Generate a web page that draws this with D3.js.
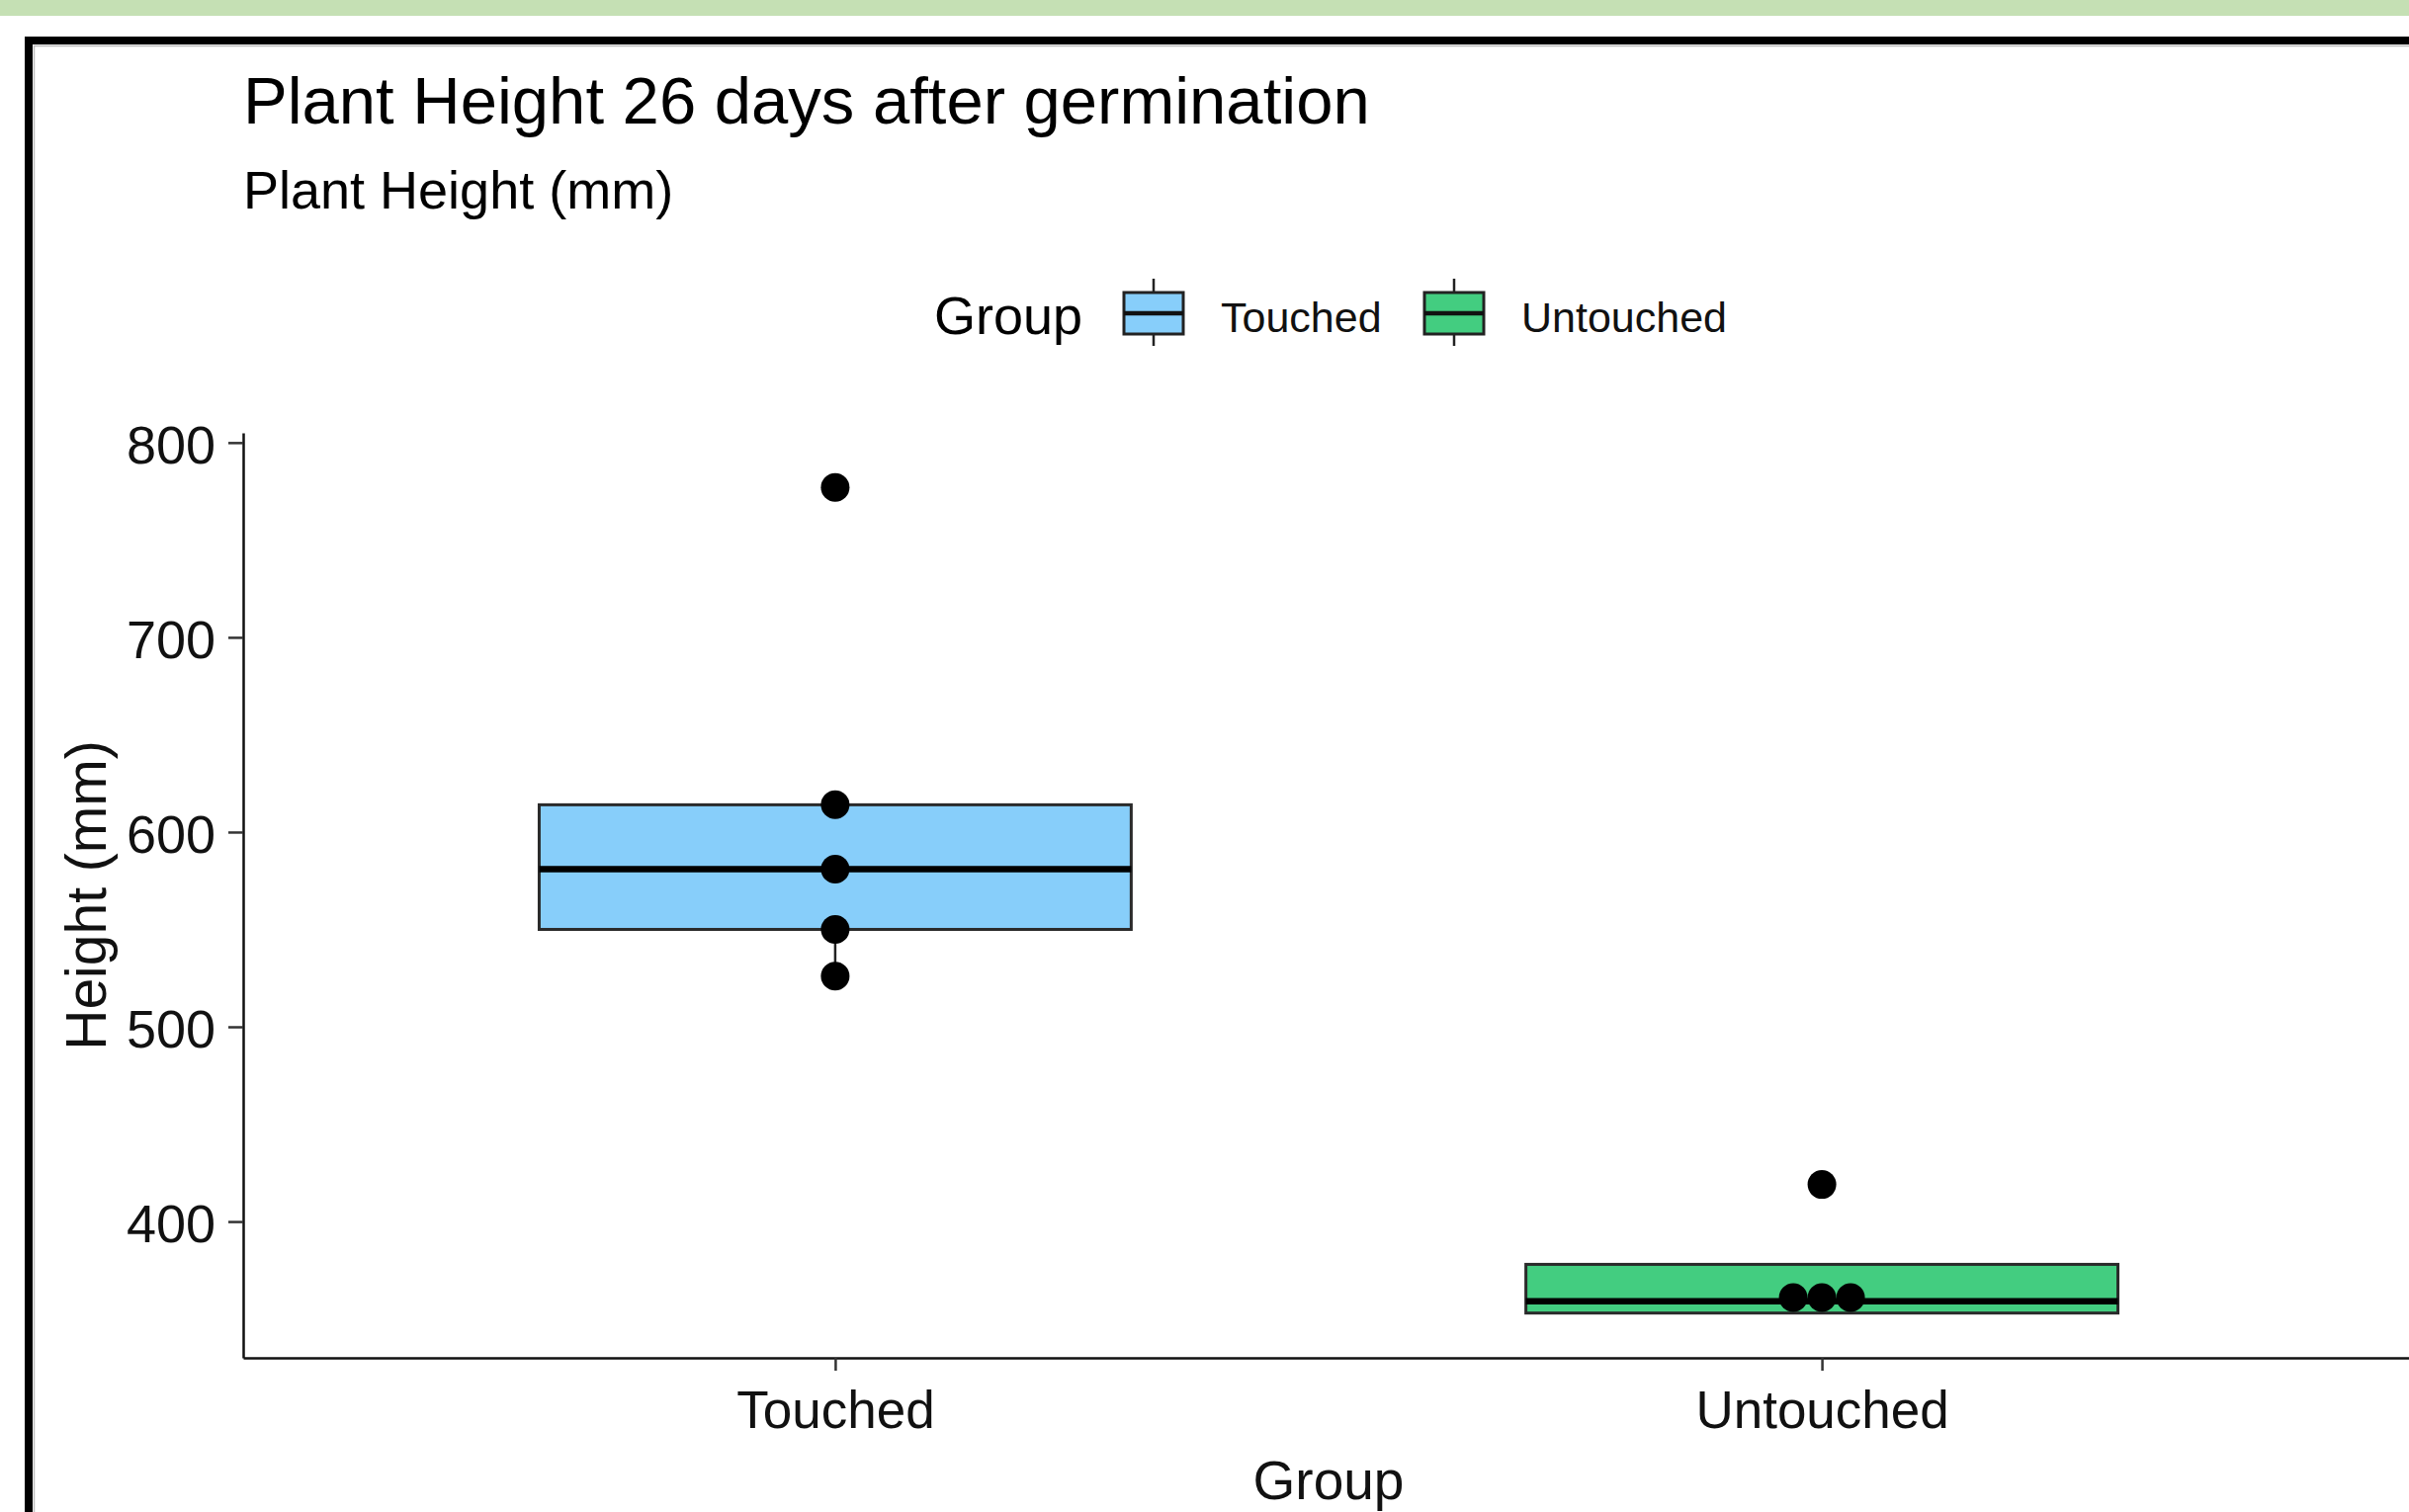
<!DOCTYPE html>
<html>
<head>
<meta charset="utf-8">
<script src="https://cdn.jsdelivr.net/npm/d3@7"></script>
<style>
    html, body { margin: 0; padding: 0; background: #fff; }
    svg { display: block; font-family: "Liberation Sans", Arial, sans-serif; }
</style>
</head>
<body>
<svg id="chart" width="2437" height="1530"></svg>
<script>
// groups on the x axis
var groups = ["Touched", "Untouched"];
var groupColors = ["#87cefa", "#43cd80"];

// box stats (mm)
var boxLow = [526, 353];
var boxQ1 = [550, 353];
var boxMedian = [581, 359];
var boxQ3 = [614, 378];
var boxHigh = [614, 378];

// individual plants (stack = horizontal dot slot)
var pointGroup = ["Touched", "Touched", "Touched", "Touched", "Touched", "Untouched", "Untouched", "Untouched", "Untouched"];
var pointValue = [777, 614, 581, 550, 526, 419, 361, 361, 361];
var pointStack = [0, 0, 0, 0, 0, 0, -1, 0, 1];

var yTicks = [400, 500, 600, 700, 800];

var svg = d3.select("#chart");
var font = "'Liberation Sans', Arial, sans-serif";

// page decoration: green strip and black frame
svg.append("rect").attr("x", 0).attr("y", 0).attr("width", 2437).attr("height", 16).attr("fill", "#c5e0b4");
svg.append("rect").attr("x", 29).attr("y", 41).attr("width", 2500).attr("height", 1600)
    .attr("fill", "none").attr("stroke", "#000").attr("stroke-width", 8);
svg.append("path").attr("d", "M34,46.5H2437M34.5,46V1530").attr("stroke", "#bbb").attr("stroke-width", 1.5).attr("fill", "none");

var panel = { left: 246, right: 2442, top: 438, bottom: 1374 };

var x = d3.scalePoint()
    .domain(groups)
    .range([panel.left, panel.right])
    .padding(0.6);

var y = d3.scaleLinear()
    .domain([330, 805])
    .range([panel.bottom, panel.top]);

var boxWidth = x.step() * 0.6;
var dotR = 14.5;

// titles
svg.append("text").attr("x", 246).attr("y", 125)
    .style("font-size", "67px").attr("fill", "#000")
    .text("Plant Height 26 days after germination");
svg.append("text").attr("x", 246).attr("y", 211)
    .style("font-size", "54px").attr("fill", "#000")
    .text("Plant Height (mm)");

// legend
var legend = svg.append("g");
legend.append("text").attr("x", 945).attr("y", 338)
    .style("font-size", "54px").attr("fill", "#000").text("Group");

var keyX = [1137, 1441];
var labelX = [1235, 1539];
groups.forEach(function (g, i) {
    var k = legend.append("g").attr("transform", "translate(" + keyX[i] + ",0)");
    k.append("line").attr("x1", 30).attr("x2", 30).attr("y1", 282).attr("y2", 350)
        .attr("stroke", "#222").attr("stroke-width", 2.5);
    k.append("rect").attr("x", 0).attr("y", 296).attr("width", 60).attr("height", 42)
        .attr("fill", groupColors[i]).attr("stroke", "#222").attr("stroke-width", 3);
    k.append("line").attr("x1", 0).attr("x2", 60).attr("y1", 317).attr("y2", 317)
        .attr("stroke", "#111").attr("stroke-width", 4.5);
    legend.append("text").attr("x", labelX[i]).attr("y", 336)
        .style("font-size", "43px").attr("fill", "#111").text(g);
});

// axes
var yAxis = svg.append("g")
    .attr("transform", "translate(" + panel.left + ",0)")
    .call(d3.axisLeft(y).tickValues(yTicks).tickSize(15).tickPadding(13).tickSizeOuter(0));
yAxis.select(".domain").attr("stroke", "#111").attr("stroke-width", 2.5);
yAxis.selectAll(".tick line").attr("stroke", "#333").attr("stroke-width", 2.5);
yAxis.selectAll(".tick text").style("font-size", "54px").style("font-family", font)
    .attr("fill", "#111").attr("dy", "0.38em");

var xAxis = svg.append("g")
    .attr("transform", "translate(0," + panel.bottom + ")")
    .call(d3.axisBottom(x).tickSize(13).tickSizeOuter(0));
xAxis.select(".domain").attr("stroke", "#111").attr("stroke-width", 2.5);
xAxis.selectAll(".tick line").attr("stroke", "#333").attr("stroke-width", 2.5);
xAxis.selectAll(".tick text").style("font-size", "53px").style("font-family", font)
    .attr("fill", "#111").attr("dy", null).attr("y", 71);

// axis titles
svg.append("text").attr("x", (panel.left + panel.right) / 2).attr("y", 1517)
    .attr("text-anchor", "middle").style("font-size", "55px").attr("fill", "#111").text("Group");
svg.append("text")
    .attr("transform", "translate(107," + ((panel.top + panel.bottom) / 2) + ") rotate(-90)")
    .attr("text-anchor", "middle").style("font-size", "57px").attr("fill", "#111").text("Height (mm)");

// boxplots
var boxes = svg.append("g");
groups.forEach(function (g, i) {
    var cx = x(g);
    boxes.append("line")
        .attr("x1", cx).attr("x2", cx).attr("y1", y(boxLow[i])).attr("y2", y(boxQ1[i]))
        .attr("stroke", "#222").attr("stroke-width", 2.5);
    boxes.append("line")
        .attr("x1", cx).attr("x2", cx).attr("y1", y(boxQ3[i])).attr("y2", y(boxHigh[i]))
        .attr("stroke", "#222").attr("stroke-width", 2.5);
    boxes.append("rect")
        .attr("x", cx - boxWidth / 2).attr("width", boxWidth)
        .attr("y", y(boxQ3[i])).attr("height", y(boxQ1[i]) - y(boxQ3[i]))
        .attr("fill", groupColors[i]).attr("stroke", "#2a2a2a").attr("stroke-width", 3);
    boxes.append("line")
        .attr("x1", cx - boxWidth / 2).attr("x2", cx + boxWidth / 2)
        .attr("y1", y(boxMedian[i])).attr("y2", y(boxMedian[i]))
        .attr("stroke", "#000").attr("stroke-width", 6.5);
});

// points
svg.append("g").selectAll("circle")
    .data(pointValue)
    .join("circle")
    .attr("cx", function (d, i) { return x(pointGroup[i]) + pointStack[i] * dotR * 2; })
    .attr("cy", function (d) { return y(d); })
    .attr("r", dotR)
    .attr("fill", "#000");
</script>
</body>
</html>
